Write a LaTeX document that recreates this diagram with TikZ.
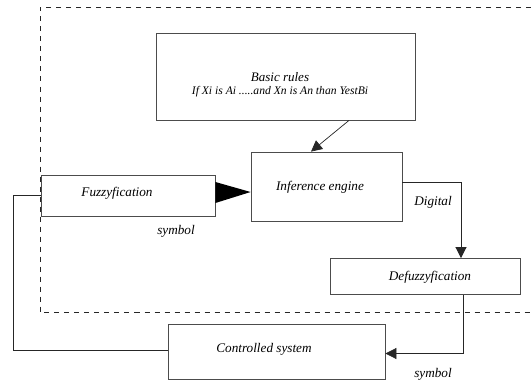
\documentclass[tikz,border=0pt]{standalone}
\usepackage{fontspec}
\setmainfont{Liberation Serif}
\usetikzlibrary{arrows.meta,calc}
\begin{document}
\begin{tikzpicture}[x=1pt,y=-1pt,
  box/.style={draw=black!70,line width=0.8pt,rectangle,inner sep=0pt},
  lbl/.style={font=\fontsize{13.2}{15}\selectfont\itshape,inner sep=0pt},
  conn/.style={draw=black!85,line width=0.7pt},
  arr/.style={conn,-{Triangle[length=11pt,width=11pt]}},
  border/.style={draw=black!85,line width=0.7pt,dash pattern=on 5pt off 5pt}]
\useasboundingbox (0,0) rectangle (531,380);
% outer dashed region
\draw[border] (531,7.5) -- (40,7.5) -- (40,312) -- (531,312);
% boxes
\node[box,minimum width=259pt,minimum height=87pt] (br) at (286,76.5) {};
\node[box,minimum width=151pt,minimum height=69pt] (ie) at (326.5,186.5) {};
\node[box,minimum width=173.4pt,minimum height=41pt] (fz) at (128.3,195.5) {};
\node[box,minimum width=190pt,minimum height=36.2pt] (df) at (425,276.6) {};
\node[box,minimum width=217pt,minimum height=55pt] (cs) at (276.5,351.5) {};
% box texts
\node[lbl,align=center,font=\fontsize{11.6}{13.4}\selectfont\itshape] (brt) at (280,85) {{\fontsize{13}{13.4}\selectfont Basic rules}\\If Xi is Ai .....and Xn is An than YestBi};
\node[lbl] (iet) at (320,187.5) {Inference engine};
\node[lbl] (fzt) at (117,193) {Fuzzyfication};
\node[lbl] (dft) at (430,277) {Defuzzyfication};
\node[lbl] (cst) at (264,349) {Controlled system};
% free labels
\node[lbl] (sym1) at (176,231.6) {symbol};
\node[lbl] (dig) at (433,202) {Digital};
\node[lbl] (sym2) at (433,374) {symbol};
% connectors
\draw[arr] ($(br.south)+(63,0)$) -- ($(ie.north)+(-15.5,0)$);
\fill[black] ($(fz.east)+(0,-13.5)$) -- ($(fz.east)+(0,7.5)$) -- ($(ie.west)+(0,5.5)$) -- cycle;
\draw[arr] ($(ie.east)+(0,-4)$) -| ($(df.north)+(36,0)$);
\draw[arr] ($(df.south)+(38,0)$) |- ($(cs.east)+(0,2)$);
\coordinate (fb) at (13.5,350);
\draw[conn] ($(cs.west)+(0,-1.5)$) -- (fb) |- (fz.west);
\end{tikzpicture}
\end{document}
